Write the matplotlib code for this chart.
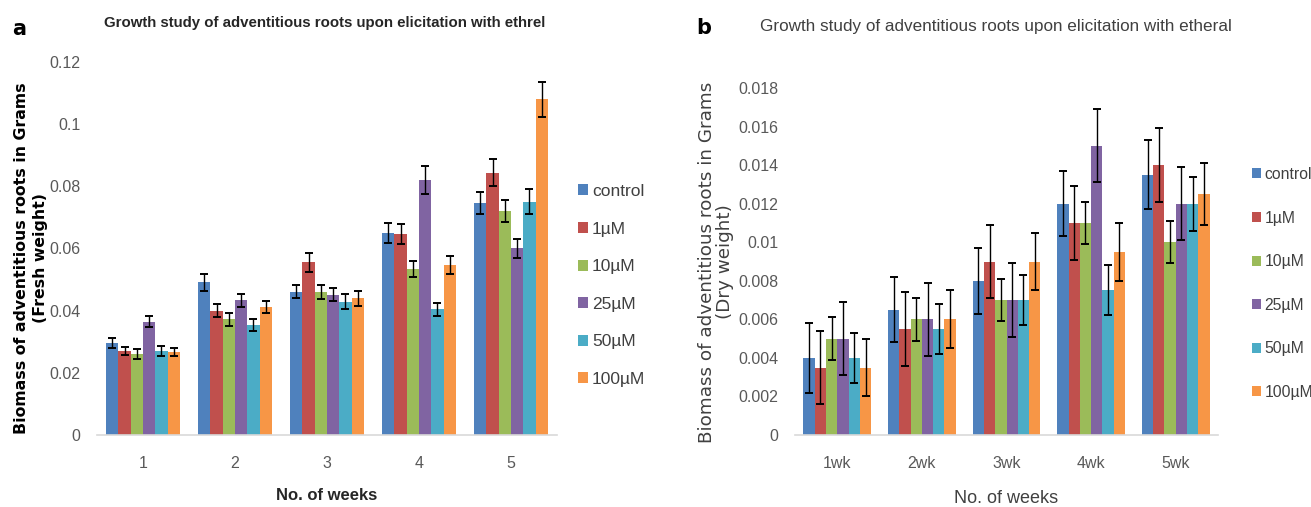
import matplotlib
matplotlib.use("Agg")
import matplotlib.pyplot as plt
import numpy as np

series = ["control", "1µM", "10µM", "25µM", "50µM", "100µM"]
colors = ["#4F81BD", "#C0504D", "#9BBB59", "#8064A2", "#4BACC6", "#F79646"]

weeks_a = ["1", "2", "3", "4", "5"]
fresh_control = [0.0297, 0.0491, 0.0461, 0.0651, 0.0747]
fresh_1uM = [0.0270, 0.0400, 0.0556, 0.0647, 0.0844]
fresh_10uM = [0.0260, 0.0373, 0.0460, 0.0535, 0.0721]
fresh_25uM = [0.0365, 0.0434, 0.0451, 0.0820, 0.0601]
fresh_50uM = [0.0270, 0.0354, 0.0429, 0.0404, 0.0751]
fresh_100uM = [0.0266, 0.0411, 0.0440, 0.0547, 0.1080]

fresh_err_control = [0.0016, 0.0027, 0.0021, 0.0032, 0.0035]
fresh_err_1uM = [0.0014, 0.0020, 0.0030, 0.0033, 0.0044]
fresh_err_10uM = [0.0016, 0.0021, 0.0021, 0.0026, 0.0035]
fresh_err_25uM = [0.0018, 0.0021, 0.0021, 0.0045, 0.0031]
fresh_err_50uM = [0.0015, 0.0019, 0.0024, 0.0021, 0.0039]
fresh_err_100uM = [0.0013, 0.0019, 0.0024, 0.0028, 0.0057]

weeks_b = ["1wk", "2wk", "3wk", "4wk", "5wk"]
dry_control = [0.0040, 0.0065, 0.0080, 0.0120, 0.0135]
dry_1uM = [0.0035, 0.0055, 0.0090, 0.0110, 0.0140]
dry_10uM = [0.0050, 0.0060, 0.0070, 0.0110, 0.0100]
dry_25uM = [0.0050, 0.0060, 0.0070, 0.0150, 0.0120]
dry_50uM = [0.0040, 0.0055, 0.0070, 0.0075, 0.0120]
dry_100uM = [0.0035, 0.0060, 0.0090, 0.0095, 0.0125]

dry_err_control = [0.0018, 0.0017, 0.0017, 0.0017, 0.0018]
dry_err_1uM = [0.0019, 0.0019, 0.0019, 0.0019, 0.0019]
dry_err_10uM = [0.0011, 0.0011, 0.0011, 0.0011, 0.0011]
dry_err_25uM = [0.0019, 0.0019, 0.0019, 0.0019, 0.0019]
dry_err_50uM = [0.0013, 0.0013, 0.0013, 0.0013, 0.0014]
dry_err_100uM = [0.0015, 0.0015, 0.0015, 0.0015, 0.0016]

fresh = [fresh_control, fresh_1uM, fresh_10uM, fresh_25uM, fresh_50uM, fresh_100uM]
fresh_err = [fresh_err_control, fresh_err_1uM, fresh_err_10uM, fresh_err_25uM, fresh_err_50uM, fresh_err_100uM]
dry = [dry_control, dry_1uM, dry_10uM, dry_25uM, dry_50uM, dry_100uM]
dry_err = [dry_err_control, dry_err_1uM, dry_err_10uM, dry_err_25uM, dry_err_50uM, dry_err_100uM]

plt.rcParams["font.family"] = ["Liberation Sans", "DejaVu Sans"]

W, H = 1311, 507
fig = plt.figure(figsize=(W / 100, H / 100), dpi=100)

def px_axes(l, t, r, b):
    return fig.add_axes([l / W, 1 - b / H, (r - l) / W, (b - t) / H])

def draw(ax, cats, vals, errs, group_w, ylim, yticks, yticklabels, tick_fs, capsize):
    n = len(vals)
    x = np.arange(1, len(cats) + 1)
    bw = group_w / n
    handles = []
    for i in range(n):
        pos = x - group_w / 2 + bw * (i + 0.5)
        b = ax.bar(pos, vals[i], width=bw, color=colors[i], label=series[i], zorder=2)
        handles.append(b)
        ax.errorbar(pos, vals[i], yerr=errs[i], fmt="none", ecolor="black",
                    elinewidth=1.0, capsize=capsize, capthick=1.4, zorder=3)
    ax.set_xlim(0.5, len(cats) + 0.5)
    ax.set_ylim(*ylim)
    ax.set_xticks(x)
    ax.set_xticklabels(cats)
    ax.set_yticks(yticks)
    ax.set_yticklabels(yticklabels)
    for s in ["top", "right", "left"]:
        ax.spines[s].set_visible(False)
    ax.spines["bottom"].set_color("#D9D9D9")
    ax.spines["bottom"].set_linewidth(1.2)
    ax.tick_params(axis="both", length=0, labelsize=tick_fs, labelcolor="#595959")
    ax.tick_params(axis="x", pad=15)
    ax.tick_params(axis="y", pad=12)
    return handles

# Panel a
ax1 = px_axes(97, 62, 557, 435)
h1 = draw(ax1, weeks_a, fresh, fresh_err, 0.80, (0, 0.12),
          [0, 0.02, 0.04, 0.06, 0.08, 0.1, 0.12],
          ["0", "0.02", "0.04", "0.06", "0.08", "0.1", "0.12"], 11.5, 2.7)
ax1.set_xlabel("No. of weeks", fontsize=12, fontweight="bold", color="#262626", labelpad=12)

# Panel b
ax2 = px_axes(795, 88, 1218, 435)
h2 = draw(ax2, weeks_b, dry, dry_err, 0.80, (0, 0.018),
          [0, 0.002, 0.004, 0.006, 0.008, 0.01, 0.012, 0.014, 0.016, 0.018],
          ["0", "0.002", "0.004", "0.006", "0.008", "0.01", "0.012", "0.014", "0.016", "0.018"], 11.5, 2.7)
ax2.set_xlabel("No. of weeks", fontsize=13, color="#404040", labelpad=14)

# Titles
fig.text(325 / W, 1 - 23 / H, "Growth study of adventitious roots upon elicitation with ethrel",
         ha="center", va="center", fontsize=10.8, fontweight="bold", color="#262626")
fig.text(996 / W, 1 - 27 / H, "Growth study of adventitious roots upon elicitation with etheral",
         ha="center", va="center", fontsize=12.3, color="#404040")
fig.text(12 / W, 1 - 29 / H, "a", ha="left", va="center", fontsize=15, fontweight="bold",
         family=["DejaVu Sans"])
fig.text(696 / W, 1 - 28 / H, "b", ha="left", va="center", fontsize=15, fontweight="bold",
         family=["DejaVu Sans"])

# Y labels
fig.text(31 / W, 1 - 258 / H, "Biomass of adventitious roots in Grams\n(Fresh weight)",
         ha="center", va="center", rotation=90, fontsize=11.3, fontweight="bold",
         color="#000000", linespacing=1.4, family=["DejaVu Sans"])
fig.text(716 / W, 1 - 262 / H, "Biomass of adventitious roots in Grams\n(Dry weight)",
         ha="center", va="center", rotation=90, fontsize=13.2,
         color="#404040", linespacing=1.05, family=["DejaVu Sans"])

# Legends
def legend(handles, x_px, y_top_px, fs, ls):
    leg = fig.legend(handles, series, loc="upper left",
                     bbox_to_anchor=(x_px / W, 1 - y_top_px / H), frameon=False,
                     fontsize=fs, handlelength=0.6, handleheight=0.6, handletextpad=0.2,
                     labelspacing=ls, borderaxespad=0, borderpad=0)
    for t in leg.get_texts():
        t.set_color("#404040")
    return leg

legend(h1, 578, 184, 12.5, 1.3)
legend(h2, 1252, 167, 11.3, 1.82)

fig.savefig("out.png", dpi=100)
